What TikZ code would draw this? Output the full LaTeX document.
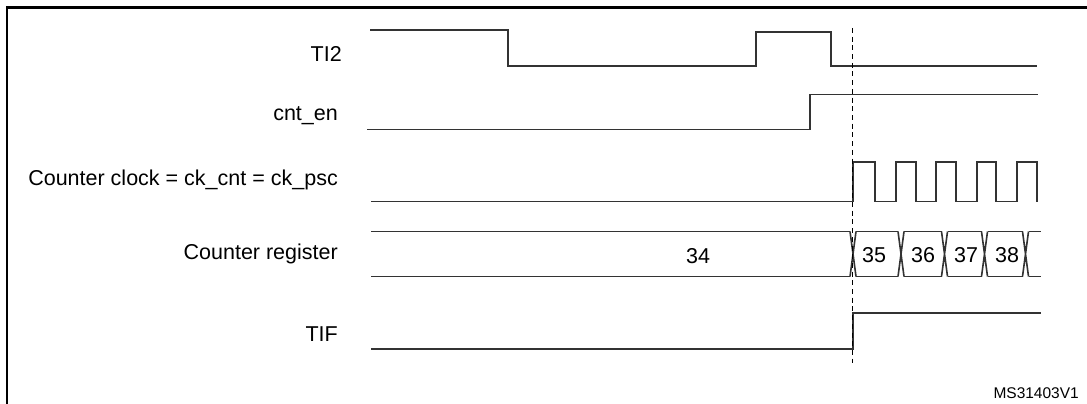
\documentclass[tikz,border=0pt]{standalone}
\usepackage{fontspec}
\setmainfont{Liberation Sans}
\begin{document}
\begin{tikzpicture}[x=1pt,y=-1pt, line join=miter, font=\fontsize{21.5}{25}\selectfont]
	\tikzset{sig/.style={line width=1.6pt, black!80},
		lbl/.style={anchor=base east, inner sep=0pt},
		val/.style={inner sep=0pt}}
	\def\xs{371} \def\xe{1037} \def\xt{852.7} % start, end, trigger
	\def\bt{231.5} \def\bb{276.5} % bus top, bottom
	\useasboundingbox (0,0) rectangle (1087,404);
	% frame
	\draw[line width=2.6pt] (1100,7.5)--(7,7.5)--(7,420);
	% labels
	\node[lbl] (lti) at (342,62) {TI2};
	\node[lbl] (len) at (338,120) {cnt\_en};
	\node[lbl] (lck) at (338,185.7) {Counter clock = ck\_cnt = ck\_psc};
	\node[lbl] (lcr) at (338,259.3) {Counter register};
	\node[lbl] (lif) at (338,341.7) {TIF};
	\node[lbl, font=\fontsize{15.5}{18}\selectfont] (ref) at (1079,398) {MS31403V1};
	% TI2
	\draw[sig] (370,30)--(508,30)--(508,66)--(756,66)--(756,32)--(831,32)--(831,66)--(\xe,66);
	% cnt_en
	\draw[sig] (367,129.5)--(810,129.5)--(810,94.5)--(1038,94.5);
	% counter clock
	\draw[sig] (\xs,201.5) foreach \r/\f in {\xt/875,896/916,936/956,977/996,1017/1037}
		{--(\r,201.5)--(\r,162)--(\f,162)--(\f,201.5)};
	% counter register
	\draw[sig] (\xs,\bt)--(850,\bt) (\xs,\bb)--(850,\bb);
	\foreach \c in {853,901,944.5,984.5,1025.5}
		\draw[sig] (\c-3,\bt)--(\c+3,\bb) (\c-3,\bb)--(\c+3,\bt);
	\foreach \a/\b in {853/901,901/944.5,944.5/984.5,984.5/1025.5}
		\draw[sig] (\a+3,\bt)--(\b-3,\bt) (\a+3,\bb)--(\b-3,\bb);
	\draw[sig] (1028.5,\bt)--(1041,\bt) (1028.5,\bb)--(1041,\bb);
	\node[val] (v34) at (698,256) {34};
	\node[val] (v35) at (874,255) {35};
	\node[val] (v36) at (923,255) {36};
	\node[val] (v37) at (966,255) {37};
	\node[val] (v38) at (1007,255) {38};
	% TIF
	\draw[sig] (\xs,349)--(\xt,349)--(\xt,312.7)--(1041,312.7);
	% trigger
	\draw[line width=1.5pt, dash pattern=on 5pt off 3.7pt] (\xt,28)--(\xt,363);
\end{tikzpicture}
\end{document}
